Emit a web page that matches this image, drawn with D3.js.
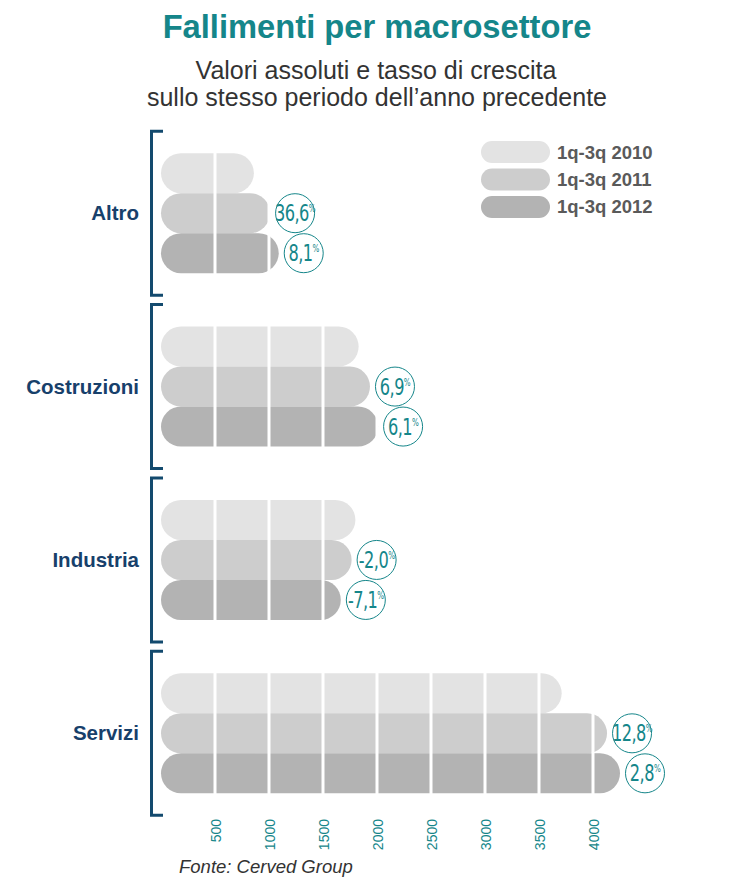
<!DOCTYPE html>
<html><head><meta charset="utf-8">
<script src="https://cdn.jsdelivr.net/npm/d3@7"></script>
<style>body{margin:0;background:#fff}svg{display:block}</style>
</head><body>
<script>
const categories = ["Altro","Costruzioni","Industria","Servizi"];
const seriesNames = ["1q-3q 2010","1q-3q 2011","1q-3q 2012"];
const values2010 = [860, 1830, 1800, 3710];
const values2011 = [1010, 1935, 1765, 4130];
const values2012 = [1090, 2010, 1665, 4250];
const growth2011 = ["36,6","6,9","-2,0","12,8"];
const growth2012 = ["8,1","6,1","-7,1","2,8"];
const tickValues = [500,1000,1500,2000,2500,3000,3500,4000];
const colors = ["#e3e3e3","#cdcdcd","#b3b3b3"];

const W=741,H=882;
const svg=d3.select("body").append("svg").attr("width",W).attr("height",H);
const x=d3.scaleLinear().domain([0,4000]).range([161,593]);
const y=d3.scaleBand().domain(categories).range([126.5,820]);
const yi=d3.scaleBand().domain(seriesNames).range([-60,60]);
const allVals=[values2010,values2011,values2012];
const teal="#15868a", navy="#17406b";
const FF="Liberation Sans, Arial, sans-serif";

// title
svg.append("text").attr("x",377).attr("y",38).attr("text-anchor","middle")
 .attr("font-family",FF).attr("font-weight","bold")
 .attr("font-size",32.7).attr("fill",teal).text("Fallimenti per macrosettore");
svg.append("text").attr("x",376).attr("y",79).attr("text-anchor","middle")
 .attr("font-family",FF).attr("font-size",25).attr("fill","#333")
 .text("Valori assoluti e tasso di crescita");
svg.append("text").attr("x",377).attr("y",106).attr("text-anchor","middle")
 .attr("font-family",FF).attr("font-size",25).attr("fill","#333")
 .text("sullo stesso periodo dell’anno precedente");

// groups
const g=svg.selectAll("g.cat").data(categories).enter().append("g")
 .attr("transform",d=>`translate(0,${y(d)+y.bandwidth()/2})`);

// brackets
g.append("path").attr("d","M163,-82 H151.5 V82 H163").attr("fill","none")
 .attr("stroke","#134a6e").attr("stroke-width",3);
g.append("text").attr("x",139).attr("y",7).attr("text-anchor","end")
 .attr("font-family",FF).attr("font-weight","bold")
 .attr("font-size",20.5).attr("fill",navy).text(d=>d);

// bars
seriesNames.forEach((s,si)=>{
  g.append("rect").attr("x",x(0)).attr("y",yi(s)).attr("height",yi.bandwidth())
   .attr("width",(d,i)=>x(allVals[si][i])-x(0)).attr("rx",20).attr("ry",20)
   .attr("fill",colors[si]);
});
// white grid lines through bars
g.each(function(d,i){
  const maxV=d3.max(allVals,a=>a[i]);
  d3.select(this).selectAll("line.grid").data(tickValues.filter(t=>t<maxV)).enter().append("line")
   .attr("x1",t=>x(t)).attr("x2",t=>x(t)).attr("y1",-62).attr("y2",62)
   .attr("stroke","#fff").attr("stroke-width",3);
});

// growth labels
function badge(vals,labels,s){
  const b=g.append("g").attr("transform",(d,i)=>`translate(${x(vals[i])+25},${yi(s)+yi.bandwidth()/2})`);
  b.append("circle").attr("r",19.5).attr("fill","#fff").attr("stroke",teal).attr("stroke-width",1);
  const t=b.append("text").attr("text-anchor","middle").attr("y",8)
   .attr("transform","scale(0.72,1)")
   .attr("font-family","DejaVu Sans, sans-serif")
   .attr("fill",teal).attr("font-size",22.5).attr("letter-spacing",-0.8);
  t.append("tspan").text((d,i)=>labels[i]);
  t.append("tspan").attr("font-size",10).attr("dy",-9).text("%");
}
badge(values2011,growth2011,seriesNames[1]);
badge(values2012,growth2012,seriesNames[2]);

// legend
const lg=svg.append("g");
seriesNames.forEach((s,i)=>{
  lg.append("rect").attr("x",481).attr("y",141+i*27.5).attr("width",69).attr("height",22)
   .attr("rx",11).attr("fill",colors[i]);
  lg.append("text").attr("x",557).attr("y",159+i*27)
   .attr("font-family",FF).attr("font-weight","bold")
   .attr("font-size",18.5).attr("fill","#5a5a5a").text(s);
});

// axis ticks
const ax=svg.append("g").attr("transform","translate(0,819)");
ax.call(d3.axisBottom(x).tickValues(tickValues).tickSize(0).tickFormat(d3.format("d")));
ax.select(".domain").remove();
ax.selectAll("text").attr("transform","rotate(-90)").attr("text-anchor","end")
 .attr("x",0).attr("y",0).attr("dx",0).attr("dy","0.36em")
 .attr("font-family",FF).attr("font-size",14).attr("fill",teal);

// source
svg.append("text").attr("x",179).attr("y",873)
 .attr("font-family",FF).attr("font-style","italic")
 .attr("font-size",18.5).attr("fill","#333").text("Fonte: Cerved Group");
</script>
</body></html>
